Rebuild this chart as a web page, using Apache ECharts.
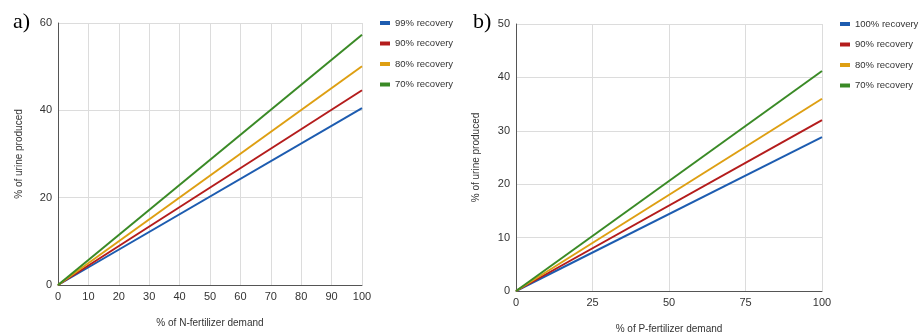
<!DOCTYPE html>
<html>
<head>
<meta charset="utf-8">
<script src="https://cdn.jsdelivr.net/npm/echarts@6/dist/echarts.min.js"></script>
<style>
  html, body { margin: 0; padding: 0; background: #fff; }
  #chart { width: 919px; height: 335px; }
</style>
</head>
<body>
<div id="chart"></div>
<script>
// panel a) N-fertilizer
const demandN = [0, 100];
const namesN = ["99% recovery", "90% recovery", "80% recovery", "70% recovery"];
const urineN = [
  [0, 40.5],
  [0, 44.6],
  [0, 50.1],
  [0, 57.3],
];

// panel b) P-fertilizer
const demandP = [0, 100];
const namesP = ["100% recovery", "90% recovery", "80% recovery", "70% recovery"];
const urineP = [
  [0, 28.8],
  [0, 32.0],
  [0, 36.0],
  [0, 41.2],
];

const colors = ["#1d5cb0", "#b41c1c", "#de9f12", "#3a8a26"];
const font = "Liberation Sans, Arial, sans-serif";

const chart = echarts.init(document.getElementById("chart"), null, { renderer: "canvas" });

function xAxis(gridIndex, interval, name, gap) {
  return {
    type: "value",
    gridIndex,
    min: 0,
    max: 100,
    interval,
    name,
    nameLocation: "middle",
    nameGap: gap,
    nameTextStyle: { color: "#333", fontSize: 10, fontFamily: font },
    axisLine: { show: true, lineStyle: { color: "#555", width: 1 } },
    axisTick: { show: false },
    axisLabel: { color: "#333", fontSize: 11, fontFamily: font, margin: 6 },
    splitLine: { show: true, lineStyle: { color: "#dcdcdc", width: 1 } },
  };
}

function yAxis(gridIndex, max, interval, gap) {
  return {
    type: "value",
    gridIndex,
    min: 0,
    max,
    interval,
    name: "% of urine produced",
    nameLocation: "middle",
    nameRotate: 90,
    nameGap: gap,
    nameTextStyle: { color: "#333", fontSize: 10, fontFamily: font },
    axisLine: { show: true, lineStyle: { color: "#555", width: 1 } },
    axisTick: { show: false },
    axisLabel: { color: "#333", fontSize: 11, fontFamily: font, margin: 6 },
    splitLine: { show: true, lineStyle: { color: "#dcdcdc", width: 1 } },
  };
}

function makeSeries(names, values, demand, idx) {
  return names.map((n, i) => ({
    name: n,
    type: "line",
    xAxisIndex: idx,
    yAxisIndex: idx,
    data: demand.map((d, j) => [d, values[i][j]]),
    showSymbol: false,
    lineStyle: { width: 2, color: colors[i] },
    itemStyle: { color: colors[i] },
    z: 2 + i,
  }));
}

function legend(left, top, names) {
  return {
    orient: "vertical",
    left,
    top,
    padding: 0,
    data: names,
    icon: "rect",
    itemWidth: 10,
    itemHeight: 4,
    itemGap: 8.5,
    textStyle: { color: "#333", fontSize: 9.5, fontFamily: font, lineHeight: 12 },
  };
}

const option = {
  backgroundColor: "#fff",
  animation: false,
  title: [
    { text: "a)", left: 8, top: 6, textStyle: { fontFamily: "Liberation Serif, Times New Roman, serif", fontSize: 22, fontWeight: "normal", color: "#000" } },
    { text: "b)", left: 468, top: 6, textStyle: { fontFamily: "Liberation Serif, Times New Roman, serif", fontSize: 22, fontWeight: "normal", color: "#000" } },
  ],
  grid: [
    { left: 58, top: 23, width: 304, height: 262, outerBoundsMode: "none" },
    { left: 516, top: 24, width: 306, height: 267, outerBoundsMode: "none" },
  ],
  xAxis: [
    xAxis(0, 10, "% of N-fertilizer demand", 33),
    xAxis(1, 25, "% of P-fertilizer demand", 33),
  ],
  yAxis: [
    yAxis(0, 60, 20, 34),
    yAxis(1, 50, 10, 35),
  ],
  legend: [
    legend(380, 17, namesN),
    legend(840, 18, namesP),
  ],
  series: [
    ...makeSeries(namesN, urineN, demandN, 0),
    ...makeSeries(namesP, urineP, demandP, 1),
  ],
};

chart.setOption(option);
</script>
</body>
</html>
